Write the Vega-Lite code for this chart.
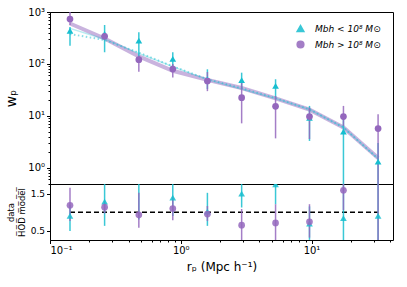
{
  "$schema": "https://vega.github.io/schema/vega-lite/v6.json",
  "autosize": {"type": "pad"},
  "padding": {"left": 4, "top": 6, "right": 11, "bottom": 10},
  "background": "white",
  "spacing": 0,
  "bounds": "flush",
  "config": {
    "font": "DejaVu Sans",
    "view": {"stroke": "#000", "strokeWidth": 1},
    "axis": {"labelFont": "DejaVu Sans", "titleFont": "DejaVu Sans", "labelFontSize": 9, "labelColor": "#000", "titleColor": "#000", "tickColor": "#000", "domainColor": "#000", "grid": false, "titleFontWeight": "normal", "labelPadding": 2},
    "legend": {"labelFont": "DejaVu Sans"}
  },
  "datasets": {
    "pts": [
      {"r": 0.1422, "w": 436, "wlo": 225, "whi": 515, "ratio": 0.90, "rlo": 0.49, "rhi": 1.2, "grp": "lo"},
      {"r": 0.2616, "w": 380, "wlo": 168, "whi": 562, "ratio": 1.29, "rlo": 0.63, "rhi": 2.0, "grp": "lo"},
      {"r": 0.478, "w": 281, "wlo": 125, "whi": 408, "ratio": 1.85, "rlo": 0.8, "rhi": 2.6, "grp": "lo"},
      {"r": 0.869, "w": 125, "wlo": 70, "whi": 168, "ratio": 1.40, "rlo": 0.9, "rhi": 1.9, "grp": "lo"},
      {"r": 1.599, "w": 51, "wlo": 33, "whi": 79, "ratio": 1.02, "rlo": 0.63, "rhi": 1.53, "grp": "lo"},
      {"r": 2.922, "w": 49, "wlo": 33, "whi": 68, "ratio": 1.51, "rlo": 1.13, "rhi": 2.1, "grp": "lo"},
      {"r": 5.31, "w": 37.8, "wlo": 22.5, "whi": 50.8, "ratio": 1.76, "rlo": 1.22, "rhi": 2.4, "grp": "lo"},
      {"r": 9.65, "w": 9.2, "wlo": 3.3, "whi": 15.6, "ratio": 0.69, "rlo": 0.25, "rhi": 1.16, "grp": "lo"},
      {"r": 17.55, "w": 5.0, "wlo": 0.3, "whi": 9.7, "ratio": 0.84, "rlo": 0.1, "rhi": 1.9, "grp": "lo"},
      {"r": 32.3, "w": 1.32, "wlo": 0.2, "whi": 3.0, "ratio": 0.9, "rlo": 0.1, "rhi": 2.0, "grp": "lo"},
      {"r": 0.1422, "w": 733, "wlo": 560, "whi": 1300, "ratio": 1.19, "rlo": 0.76, "rhi": 1.67, "grp": "hi"},
      {"r": 0.2616, "w": 341, "wlo": 300, "whi": 390, "ratio": 1.14, "rlo": 0.97, "rhi": 1.3, "grp": "hi"},
      {"r": 0.478, "w": 121, "wlo": 71, "whi": 144, "ratio": 0.93, "rlo": 0.58, "rhi": 1.53, "grp": "hi"},
      {"r": 0.869, "w": 80, "wlo": 55, "whi": 100, "ratio": 1.10, "rlo": 0.78, "rhi": 1.4, "grp": "hi"},
      {"r": 1.599, "w": 47, "wlo": 30, "whi": 70, "ratio": 0.95, "rlo": 0.76, "rhi": 1.17, "grp": "hi"},
      {"r": 2.922, "w": 22.5, "wlo": 7.2, "whi": 43.6, "ratio": 0.65, "rlo": 0.2, "rhi": 1.09, "grp": "hi"},
      {"r": 5.31, "w": 15.3, "wlo": 3.7, "whi": 24.2, "ratio": 0.71, "rlo": 0.17, "rhi": 1.22, "grp": "hi"},
      {"r": 9.65, "w": 9.7, "wlo": 3.6, "whi": 14.4, "ratio": 0.74, "rlo": 0.31, "rhi": 1.22, "grp": "hi"},
      {"r": 17.55, "w": 9.7, "wlo": 6.4, "whi": 15.6, "ratio": 1.6, "rlo": 1.06, "rhi": 2.6, "grp": "hi"},
      {"r": 32.3, "w": 5.7, "wlo": 0.1, "whi": 10.8, "ratio": 3.7, "rlo": 0.1, "rhi": 7, "grp": "hi"}
    ],
    "model": [
      {"r": 0.1422, "kind": "cyandot", "w": 377}, {"r": 0.2616, "kind": "cyandot", "w": 290}, {"r": 0.478, "kind": "cyandot", "w": 165}, {"r": 0.869, "kind": "cyandot", "w": 90}, {"r": 1.599, "kind": "cyandot", "w": 51}, {"r": 2.922, "kind": "cyandot", "w": 34}, {"r": 5.31, "kind": "cyandot", "w": 22}, {"r": 9.65, "kind": "cyandot", "w": 13.4}, {"r": 17.55, "kind": "cyandot", "w": 6.0}, {"r": 32.3, "kind": "cyandot", "w": 1.5},
      {"r": 0.1422, "kind": "cyan", "w": 484}, {"r": 0.2616, "kind": "cyan", "w": 300}, {"r": 0.478, "kind": "cyan", "w": 160}, {"r": 0.869, "kind": "cyan", "w": 89}, {"r": 1.599, "kind": "cyan", "w": 50}, {"r": 2.922, "kind": "cyan", "w": 33}, {"r": 5.31, "kind": "cyan", "w": 21.7}, {"r": 9.65, "kind": "cyan", "w": 13.3}, {"r": 17.55, "kind": "cyan", "w": 6.0}, {"r": 32.3, "kind": "cyan", "w": 1.5},
      {"r": 0.1422, "kind": "purple", "w": 600}, {"r": 0.2616, "kind": "purple", "w": 310}, {"r": 0.478, "kind": "purple", "w": 140}, {"r": 0.869, "kind": "purple", "w": 74}, {"r": 1.599, "kind": "purple", "w": 49.5}, {"r": 2.922, "kind": "purple", "w": 34.5}, {"r": 5.31, "kind": "purple", "w": 21.7}, {"r": 9.65, "kind": "purple", "w": 13.2}, {"r": 17.55, "kind": "purple", "w": 6.0}, {"r": 32.3, "kind": "purple", "w": 1.55}
    ]
  },
  "vconcat": [
    {
      "width": 343,
      "height": 172,
      "layer": [
        {
          "data": {"name": "model"},
          "transform": [{"filter": "datum.kind == 'purple'"}],
          "mark": {"type": "line", "color": "#9467bd", "strokeWidth": 4, "opacity": 0.5, "clip": true},
          "encoding": {
            "x": {"field": "r", "type": "quantitative", "scale": {"type": "log", "domain": [0.1, 42], "nice": false}, "axis": null},
            "y": {"field": "w", "type": "quantitative", "scale": {"type": "log", "domain": [0.49, 1000], "nice": false}}
          }
        },
        {
          "data": {"name": "model"},
          "transform": [{"filter": "datum.kind == 'cyan'"}],
          "mark": {"type": "line", "color": "#17becf", "strokeWidth": 1.5, "opacity": 0.3, "clip": true},
          "encoding": {
            "x": {"field": "r", "type": "quantitative"},
            "y": {"field": "w", "type": "quantitative"}
          }
        },
        {
          "data": {"name": "model"},
          "transform": [{"filter": "datum.kind == 'cyandot'"}],
          "mark": {"type": "line", "color": "#17becf", "strokeWidth": 2, "strokeDash": [1.5, 2.5], "opacity": 0.5, "clip": true},
          "encoding": {
            "x": {"field": "r", "type": "quantitative"},
            "y": {"field": "w", "type": "quantitative"}
          }
        },
        {
          "data": {"name": "pts"},
          "mark": {"type": "rule", "strokeWidth": 1.5, "opacity": 0.85, "clip": true},
          "encoding": {
            "x": {"field": "r", "type": "quantitative"},
            "y": {"field": "wlo", "type": "quantitative"},
            "y2": {"field": "whi"},
            "color": {"field": "grp", "type": "nominal", "scale": {"domain": ["lo", "hi"], "range": ["#17becf", "#9467bd"]}}
          }
        },
        {
          "data": {"name": "pts"},
          "mark": {"type": "point", "filled": true, "opacity": 1, "size": 45, "clip": true},
          "encoding": {
            "x": {"field": "r", "type": "quantitative"},
            "y": {
              "field": "w", "type": "quantitative",
              "axis": {
                "title": "wₚ", "titleFontSize": 14, "titlePadding": 9,
                "values": [0.5, 0.6, 0.7, 0.8, 0.9, 1, 2, 3, 4, 5, 6, 7, 8, 9, 10, 20, 30, 40, 50, 60, 70, 80, 90, 100, 200, 300, 400, 500, 600, 700, 800, 900, 1000],
                "labelExpr": "datum.value == 1 ? '10⁰' : datum.value == 10 ? '10¹' : datum.value == 100 ? '10²' : datum.value == 1000 ? '10³' : ''",
                "tickSize": {"condition": {"test": "datum.value == 1 || datum.value == 10 || datum.value == 100 || datum.value == 1000", "value": 3.5}, "value": 2},
                "labelFontSize": 10
              }
            },
            "color": {
              "field": "grp", "type": "nominal",
              "legend": {
                "title": null, "orient": "top-right", "offset": 12,
                "labelExpr": "datum.value == 'lo' ? 'Mbh < 10⁸ M⊙' : 'Mbh > 10⁸ M⊙'",
                "labelFontStyle": "italic", "labelFontSize": 9, "symbolSize": 45, "rowPadding": 3, "labelOffset": 10, "padding": 0
              }
            },
            "shape": {"field": "grp", "type": "nominal", "scale": {"domain": ["lo", "hi"], "range": ["triangle-up", "circle"]}}
          }
        }
      ]
    },
    {
      "width": 343,
      "height": 56,
      "layer": [
        {
          "data": {"name": "pts"},
          "mark": {"type": "rule", "color": "#000", "strokeDash": [5, 3], "strokeWidth": 1.5},
          "encoding": {
            "x": {"aggregate": "min", "field": "r", "type": "quantitative", "scale": {"type": "log", "domain": [0.1, 42], "nice": false},
              "axis": {
                "title": "rₚ (Mpc h⁻¹)", "titleFontSize": 12, "titlePadding": 6,
                "values": [0.1, 0.2, 0.3, 0.4, 0.5, 0.6, 0.7, 0.8, 0.9, 1, 2, 3, 4, 5, 6, 7, 8, 9, 10, 20, 30, 40],
                "labelExpr": "datum.value == 0.1 ? '10⁻¹' : datum.value == 1 ? '10⁰' : datum.value == 10 ? '10¹' : ''",
                "tickSize": {"condition": {"test": "datum.value == 0.1 || datum.value == 1 || datum.value == 10", "value": 3.5}, "value": 2},
                "labelFontSize": 10, "domain": false
              }
            },
            "x2": {"aggregate": "max", "field": "r"},
            "y": {"datum": 1, "type": "quantitative", "scale": {"domain": [0.245, 1.77], "nice": false, "zero": false},
              "axis": {"title": ["data", "H̅O̅D̅ m̅o̅d̅e̅l̅"], "titleFontSize": 8.5, "titlePadding": 4, "values": [0.5, 1.0, 1.5], "format": ".1f", "tickSize": 3.5}
            }
          }
        },
        {
          "data": {"name": "pts"},
          "mark": {"type": "rule", "strokeWidth": 1.5, "opacity": 0.85, "clip": true},
          "encoding": {
            "x": {"field": "r", "type": "quantitative"},
            "y": {"field": "rlo", "type": "quantitative"},
            "y2": {"field": "rhi"},
            "color": {"field": "grp", "type": "nominal"}
          }
        },
        {
          "data": {"name": "pts"},
          "mark": {"type": "point", "filled": true, "opacity": 0.85, "size": 45, "clip": true},
          "encoding": {
            "x": {"field": "r", "type": "quantitative"},
            "y": {"field": "ratio", "type": "quantitative"},
            "color": {"field": "grp", "type": "nominal"},
            "shape": {"field": "grp", "type": "nominal"}
          }
        },
        {
          "mark": {"type": "rule", "color": "#808080", "strokeWidth": 1.5},
          "encoding": {"y": {"datum": 1.77, "type": "quantitative"}}
        },
        {
          "mark": {"type": "rule", "color": "#808080", "strokeWidth": 1.5},
          "encoding": {"y": {"datum": 0.245, "type": "quantitative"}}
        }
      ]
    }
  ]
}
